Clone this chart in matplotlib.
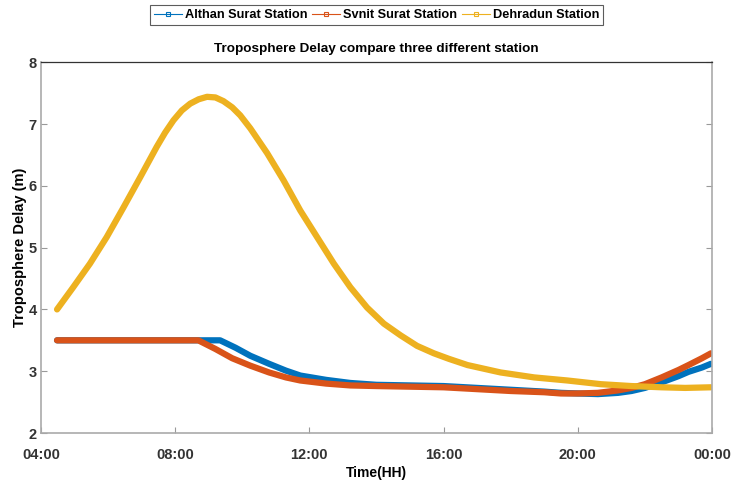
import matplotlib.pyplot as plt
import matplotlib.dates as mdates
import pandas as pd

plt.rcParams['font.family'] = ['Liberation Sans', 'DejaVu Sans']

# hours of day (24 = midnight)
yellow_hours = [4.48, 4.95, 5.46, 5.96, 6.46, 6.96, 7.45, 7.7, 7.95, 8.2, 8.45, 8.7,
                8.95, 9.2, 9.44, 9.7, 9.94, 10.24, 10.74, 11.23, 11.73, 12.23, 12.73,
                13.22, 13.72, 14.22, 14.72, 15.21, 15.71, 16.16, 16.71, 17.7, 18.7,
                19.69, 20.69, 21.6, 22.5, 23.2, 23.97]
yellow_vals = [4.0, 4.35, 4.74, 5.17, 5.65, 6.14, 6.63, 6.86, 7.06, 7.22, 7.33, 7.4,
               7.44, 7.43, 7.37, 7.27, 7.14, 6.93, 6.53, 6.09, 5.6, 5.17, 4.74,
               4.36, 4.03, 3.77, 3.58, 3.41, 3.29, 3.2, 3.1, 2.98, 2.9,
               2.85, 2.79, 2.76, 2.74, 2.73, 2.74]

blue_hours = [4.48, 6.0, 8.0, 9.34, 9.8, 10.24, 10.8, 11.3, 11.73, 12.5, 13.22, 14.0,
              15.0, 16.0, 17.0, 18.0, 19.0, 19.5, 20.0, 20.6, 21.2, 21.6, 22.0,
              22.5, 23.0, 23.3, 23.7, 23.97]
blue_vals = [3.5, 3.5, 3.5, 3.5, 3.38, 3.25, 3.12, 3.01, 2.93, 2.86, 2.81, 2.78,
             2.77, 2.76, 2.73, 2.7, 2.67, 2.65, 2.64, 2.63, 2.65, 2.68, 2.73,
             2.82, 2.92, 2.99, 3.06, 3.12]

orange_hours = [4.48, 6.0, 8.0, 8.69, 9.2, 9.7, 10.24, 10.8, 11.3, 11.73, 12.5, 13.22,
                14.0, 15.0, 16.0, 17.0, 18.0, 19.0, 19.5, 20.0, 20.6, 21.2, 21.6,
                22.0, 22.5, 23.0, 23.3, 23.7, 23.97]
orange_vals = [3.5, 3.5, 3.5, 3.5, 3.36, 3.21, 3.09, 2.98, 2.9, 2.85, 2.8, 2.77,
               2.76, 2.75, 2.74, 2.71, 2.68, 2.66, 2.64, 2.64, 2.65, 2.69, 2.73,
               2.79, 2.9, 3.02, 3.1, 3.21, 3.29]

labels = ['Althan Surat Station', 'Svnit Surat Station', 'Dehradun Station']
colors = ['#0072BD', '#D95319', '#EDB120']

base = pd.Timestamp('2020-01-01')


def to_time(hours):
    return [base + pd.Timedelta(hours=h) for h in hours]


fig = plt.figure(figsize=(7.31, 4.86), dpi=100)
ax = fig.add_axes([0.056, 0.109, 0.918, 0.763])

series = [(blue_hours, blue_vals), (orange_hours, orange_vals), (yellow_hours, yellow_vals)]
for (hrs, vals), lab, col in zip(series, labels, colors):
    ax.plot(to_time(hrs), vals, color=col, lw=4.5, solid_capstyle='round',
            solid_joinstyle='round')

# legend handles: thin line with small square marker
handles = [plt.Line2D([], [], color=c, lw=0.8, marker='s', markersize=3,
                      markerfacecolor='none', markeredgewidth=0.8) for c in colors]
leg = fig.legend(handles, labels, loc='upper center', bbox_to_anchor=(0.515, 0.997),
                 ncol=3, frameon=True, fancybox=False, edgecolor='#333333',
                 handlelength=2.2, handletextpad=0.2, columnspacing=0.4,
                 borderpad=0.3, borderaxespad=0.3, prop={'weight': 'bold', 'size': 9.2})
leg.get_frame().set_linewidth(0.8)

ax.set_xlim(base + pd.Timedelta(hours=4), base + pd.Timedelta(hours=24))
ax.set_ylim(2, 8)
ax.set_yticks([2, 3, 4, 5, 6, 7, 8])
ax.xaxis.set_major_locator(mdates.HourLocator(byhour=[0, 4, 8, 12, 16, 20]))
ax.xaxis.set_major_formatter(mdates.DateFormatter('%H:%M'))

ax.tick_params(direction='in', length=4, width=0.8, color='#999999',
               labelsize=10.5, top=False, right=True, pad=3)
ax.tick_params(axis='x', pad=11)
for lab in ax.get_xticklabels() + ax.get_yticklabels():
    lab.set_fontweight('bold')
    lab.set_color('#333333')

for side in ['left', 'bottom', 'right']:
    ax.spines[side].set_color('#aaaaaa')
    ax.spines[side].set_linewidth(1.2)
ax.spines['top'].set_color('#333333')
ax.spines['top'].set_linewidth(0.9)

ax.set_title('Troposphere Delay compare three different station', fontsize=9.7,
             fontweight='bold', pad=7)
ax.set_xlabel('Time(HH)', fontsize=10, fontweight='bold', labelpad=3)
ax.set_ylabel('Troposphere Delay (m)', fontsize=10.5, fontweight='bold', labelpad=1)

fig.savefig('out.png', dpi=100)
